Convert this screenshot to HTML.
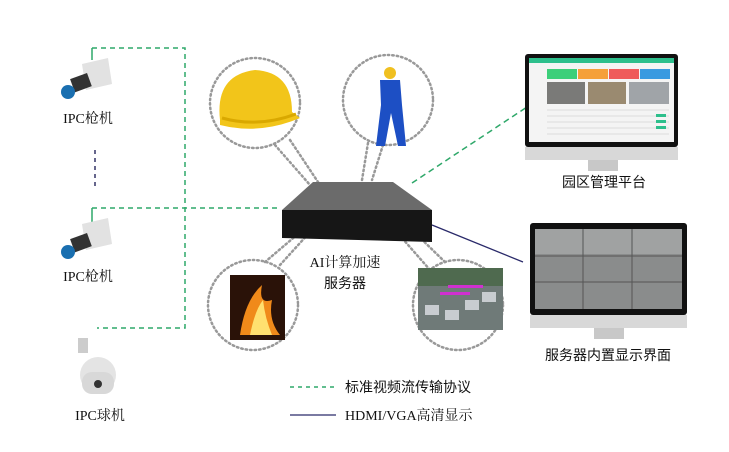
<!DOCTYPE html>
<html><head><meta charset="utf-8"><style>
html,body{margin:0;padding:0;background:#fff;}
svg{display:block;}
.s{font-family:"Liberation Serif","Noto Serif CJK SC",serif;font-size:14px;fill:#111;}
.c{font-family:"Liberation Sans","Noto Sans CJK SC",sans-serif;font-size:14px;fill:#111;}
</style></head><body>
<svg width="729" height="452" viewBox="0 0 729 452" xmlns="http://www.w3.org/2000/svg">
<rect width="729" height="452" fill="#fff"/>
<g stroke="#2fa86a" stroke-width="1.5" fill="none">
<path d="M92 48 H185 V328 H97" stroke-dasharray="5,4"/>
<path d="M92 208 H278" stroke-dasharray="5,4"/>
<path d="M92 48 V60 M92 208 V222"/>
<path d="M412 183 L527 107" stroke-dasharray="6,4"/>
<path d="M290 387 H336" stroke-dasharray="4,4"/>
</g>
<path d="M95 150 V188" stroke="#333366" stroke-width="1.5" stroke-dasharray="4,4"/>
<path d="M432 225 L523 262 M290 415 H336" stroke="#2a2a6a" stroke-width="1.3"/>
<g fill="none" stroke="#999" stroke-width="2.5" stroke-dasharray="1.5,3" stroke-linecap="round">
<circle cx="255" cy="103" r="45"/>
<circle cx="388" cy="100" r="45"/>
<circle cx="253" cy="305" r="45"/>
<circle cx="458" cy="305" r="45"/>
<path d="M275 145 L310 185 M290 140 L318 182"/>
<path d="M368 143 L362 180 M383 145 L372 180"/>
<path d="M280 265 L310 232 M265 262 L305 228"/>
<path d="M430 270 L395 230 M445 262 L410 228"/>
</g>
<path d="M220 120 Q215 75 255 70 Q292 72 292 112 L300 118 Q260 135 220 125 Z" fill="#f2c51a"/>
<path d="M222 118 Q258 128 296 114" stroke="#d9a800" stroke-width="3" fill="none"/>
<circle cx="390" cy="73" r="6" fill="#f0c020"/>
<path d="M380 80 H400 L402 105 L406 146 H398 L391 113 L385 146 H376 L381 105 Z" fill="#1d4fc4"/>
<polygon points="313,182 393,182 432,210 282,210" fill="#6b6b6b"/>
<polygon points="282,210 432,210 432,242 282,238" fill="#161616"/>
<rect x="230" y="275" width="55" height="65" fill="#2a1208"/>
<path d="M240 335 Q245 300 262 285 Q258 305 272 300 Q268 320 280 335 Z" fill="#f08a1a"/>
<path d="M250 335 Q255 310 263 300 Q265 318 272 335 Z" fill="#ffe070"/>
<rect x="418" y="268" width="85" height="62" fill="#6f7a78"/>
<rect x="418" y="268" width="85" height="18" fill="#4f6a4f"/>
<g fill="#c8ccd0"><rect x="425" y="305" width="14" height="10"/><rect x="445" y="310" width="14" height="10"/><rect x="465" y="300" width="14" height="10"/><rect x="482" y="292" width="14" height="10"/></g>
<rect x="448" y="285" width="35" height="3" fill="#d030d0"/><rect x="440" y="292" width="30" height="3" fill="#d030d0"/>
<!-- monitor 1 -->
<rect x="525" y="54" width="153" height="93" rx="3" fill="#111"/>
<rect x="529" y="58" width="145" height="84" fill="#f4f4f4"/>
<rect x="529" y="58" width="145" height="5" fill="#2dbf8c"/>
<rect x="547" y="69" width="30" height="10" fill="#3ccf7a"/><rect x="578" y="69" width="30" height="10" fill="#f5a03a"/><rect x="609" y="69" width="30" height="10" fill="#ef5a5a"/><rect x="640" y="69" width="30" height="10" fill="#3a9ae0"/>
<rect x="547" y="82" width="38" height="22" fill="#7a7a78"/><rect x="588" y="82" width="38" height="22" fill="#9a8a70"/><rect x="629" y="82" width="40" height="22" fill="#a0a4a8"/>
<g stroke="#ddd" stroke-width="1"><path d="M547 110 H669 M547 116 H669 M547 122 H669 M547 128 H669 M547 134 H669"/></g>
<g fill="#2dbf8c"><rect x="656" y="114" width="10" height="3"/><rect x="656" y="120" width="10" height="3"/><rect x="656" y="126" width="10" height="3"/></g>
<rect x="525" y="147" width="153" height="13" fill="#d8d8d8"/>
<rect x="588" y="160" width="30" height="11" fill="#c8c8c8"/>
<text x="604" y="187" class="c" text-anchor="middle">园区管理平台</text>
<!-- monitor 2 -->
<rect x="530" y="223" width="157" height="92" rx="3" fill="#111"/>
<rect x="535" y="229" width="147" height="80" fill="#8a8c8c"/>
<rect x="535" y="229" width="147" height="25" fill="#a0a2a2"/>
<g stroke="#555" stroke-width="1"><path d="M535 256 H682 M535 282 H682 M583 229 V309 M632 229 V309"/></g>
<rect x="530" y="315" width="157" height="13" fill="#d8d8d8"/>
<rect x="594" y="328" width="30" height="11" fill="#c8c8c8"/>
<text x="608" y="360" class="c" text-anchor="middle">服务器内置显示界面</text>
<g>
<polygon points="82,64 108,58 112,84 86,90" fill="#e2e2e2"/>
<rect x="72" y="76" width="18" height="14" fill="#333" transform="rotate(-20 80 83)"/>
<circle cx="68" cy="92" r="7" fill="#1a6fb0"/>
</g>
<g transform="translate(0,160)">
<polygon points="82,64 108,58 112,84 86,90" fill="#e2e2e2"/>
<rect x="72" y="76" width="18" height="14" fill="#333" transform="rotate(-20 80 83)"/>
<circle cx="68" cy="92" r="7" fill="#1a6fb0"/>
</g>
<rect x="78" y="338" width="10" height="15" fill="#ccc"/>
<circle cx="98" cy="375" r="18" fill="#e4e4e4"/>
<rect x="82" y="372" width="32" height="22" rx="10" fill="#d8d8d8"/>
<circle cx="98" cy="384" r="4" fill="#333"/>
<text x="88" y="123" class="s" text-anchor="middle">IPC枪机</text>
<text x="88" y="281" class="s" text-anchor="middle">IPC枪机</text>
<text x="100" y="420" class="s" text-anchor="middle">IPC球机</text>
<text x="345" y="267" class="s" text-anchor="middle">AI计算加速</text>
<text x="345" y="288" class="c" text-anchor="middle">服务器</text>
<text x="345" y="392" class="c">标准视频流传输协议</text>
<text x="345" y="420" class="s">HDMI/VGA高清显示</text>
</svg>
</body></html>
